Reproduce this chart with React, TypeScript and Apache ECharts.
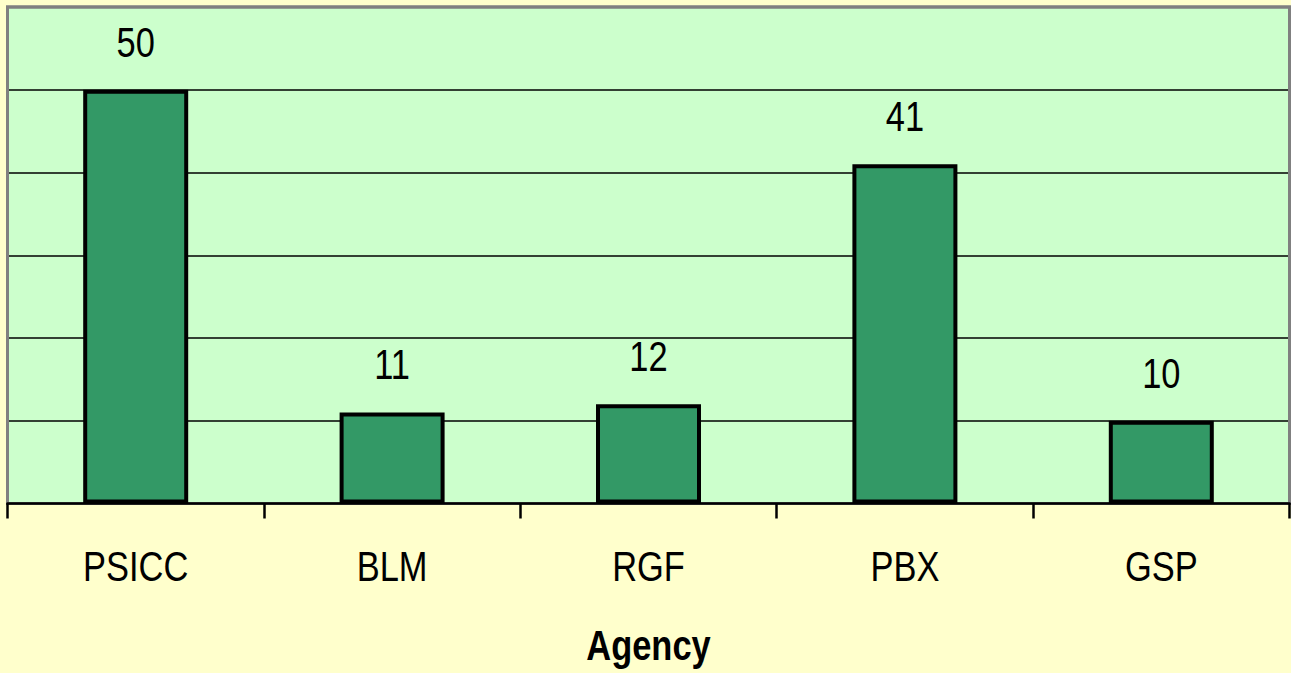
import React, { useEffect, useRef } from "react";
import * as echarts from "echarts";

const categories = ["PSICC", "BLM", "RGF", "PBX", "GSP"];
const values = [50, 11, 12, 41, 10];
const axisName = "Agency";

const FONT = "'Liberation Sans', Arial, sans-serif";
const NARROW = 0.82;
const W = 1291;
const H = 673;
const GRID = { left: 7.5, right: 1.5, top: 7, bottom: 169.5 };

export default function App() {
  const ref = useRef<HTMLDivElement>(null);
  useEffect(() => {
    if (!ref.current) return;
    const chart = echarts.init(ref.current, undefined, { renderer: "svg" });
    chart.setOption({
      animation: false,
      backgroundColor: "#FFFFCC",
      grid: {
        ...GRID,
        outerBoundsMode: "none",
        containLabel: false,
        show: true,
        backgroundColor: "#CCFFCC",
        borderColor: "#808080",
        borderWidth: 3,
      },
      xAxis: {
        type: "category",
        data: categories,
        boundaryGap: true,
        z: 5,
        axisLine: { show: true, lineStyle: { color: "#000", width: 2.5 } },
        axisTick: { show: true, length: 15, lineStyle: { color: "#000", width: 2.5 } },
        axisLabel: { show: false },
      },
      yAxis: {
        type: "value",
        min: 0,
        max: 60,
        interval: 10,
        axisLine: { show: false },
        axisTick: { show: false },
        axisLabel: { show: false },
        splitLine: {
          show: true,
          showMinLine: false,
          showMaxLine: false,
          lineStyle: { color: "#000", width: 1.5 },
        },
      },
      series: [
        {
          type: "bar",
          data: values,
          barWidth: 105,
          z: 3,
          itemStyle: { color: "#339966", borderColor: "#000", borderWidth: 4 },
        },
      ],
    });

    const graphics: any[] = [
      {
        type: "rect",
        z: 2,
        silent: true,
        shape: {
          x: GRID.left,
          y: GRID.top,
          width: W - GRID.left - GRID.right,
          height: H - GRID.top - GRID.bottom,
        },
        style: { fill: "none", stroke: "#808080", lineWidth: 3 },
      },
    ];
    categories.forEach((c, i) => {
      const top = chart.convertToPixel({ seriesIndex: 0 }, [i, values[i]]) as number[];
      const base = chart.convertToPixel({ seriesIndex: 0 }, [i, 0]) as number[];
      graphics.push({
        type: "text",
        z: 10,
        x: top[0],
        y: top[1] - 48,
        scaleX: NARROW,
        style: {
          text: String(values[i]),
          fontFamily: FONT,
          fontSize: 42,
          fill: "#000",
          align: "center",
          verticalAlign: "middle",
        },
      });
      graphics.push({
        type: "text",
        z: 10,
        x: base[0],
        y: base[1] + 62.5,
        scaleX: NARROW,
        style: {
          text: c,
          fontFamily: FONT,
          fontSize: 42,
          fill: "#000",
          align: "center",
          verticalAlign: "middle",
        },
      });
    });
    const left = chart.convertToPixel({ seriesIndex: 0 }, [0, 0]) as number[];
    const right = chart.convertToPixel({ seriesIndex: 0 }, [categories.length - 1, 0]) as number[];
    graphics.push({
      type: "text",
      z: 10,
      x: (left[0] + right[0]) / 2,
      y: left[1] + 141.5,
      scaleX: NARROW,
      style: {
        text: axisName,
        fontFamily: FONT,
        fontSize: 42,
        fontWeight: "bold",
        fill: "#000",
        align: "center",
        verticalAlign: "middle",
      },
    });
    chart.setOption({ graphic: graphics });
    return () => chart.dispose();
  }, []);
  return (
    <div
      ref={ref}
      style={{ position: "absolute", left: 0, top: 0, width: W, height: H }}
    />
  );
}
